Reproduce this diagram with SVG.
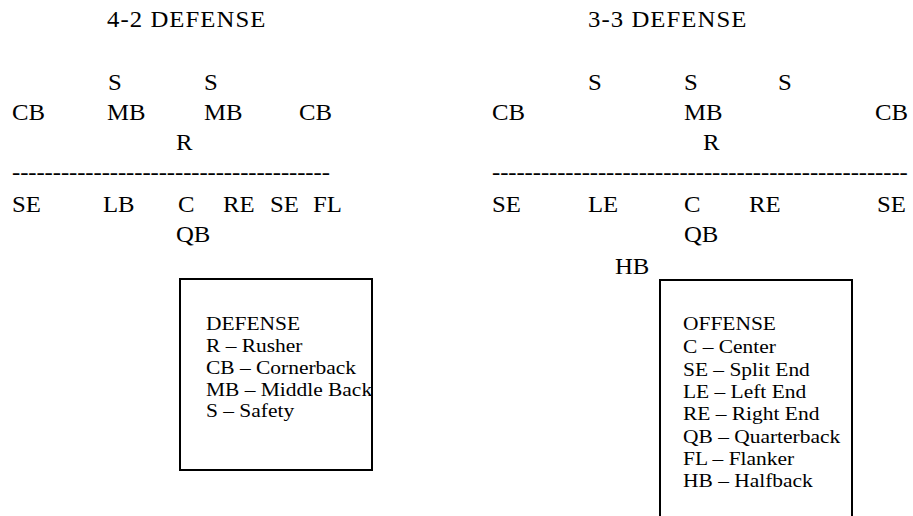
<svg xmlns="http://www.w3.org/2000/svg" width="913" height="516" viewBox="0 0 913 516">
<style>
.m{font-size:22.5px}
.l{font-size:19.5px}
.box{fill:none;stroke:#000;stroke-width:2}
</style>
<rect width="913" height="516" fill="#fff"/>
<g id="legend-boxes">
<rect id="defense-box" class="box" x="180" y="279" width="192" height="191"/>
<rect id="offense-box" class="box" x="660" y="280" width="192" height="250"/>
</g>
<g transform="scale(1.1 1)" font-family="Liberation Serif, Times New Roman, Times, DejaVu Serif, serif" fill="#000">
<g id="left-formation">
<text id="t42" class="m" x="97.27" y="27" textLength="144" lengthAdjust="spacing">4-2 DEFENSE</text>
<g id="l-s1"><text class="m" x="98.18" y="90">S</text></g>
<g id="l-s2"><text class="m" x="185.45" y="90">S</text></g>
<g id="l-cb1"><text class="m" x="10.91" y="120">CB</text></g>
<g id="l-mb1"><text class="m" x="97.27" y="120">MB</text></g>
<g id="l-mb2"><text class="m" x="185.45" y="120">MB</text></g>
<g id="l-cb2"><text class="m" x="271.82" y="120">CB</text></g>
<g id="l-r"><text class="m" x="160" y="150">R</text></g>
<g id="l-line"><text class="m" x="10.91" y="180" textLength="289" lengthAdjust="spacing">---------------------------------------</text></g>
<g id="l-se1"><text class="m" x="10.91" y="212">SE</text></g>
<g id="l-lb"><text class="m" x="93.64" y="212">LB</text></g>
<g id="l-c"><text class="m" x="161.82" y="212">C</text></g>
<g id="l-re"><text class="m" x="202.73" y="212">RE</text></g>
<g id="l-se2"><text class="m" x="245.45" y="212">SE</text></g>
<g id="l-fl"><text class="m" x="284.55" y="212">FL</text></g>
<g id="l-qb"><text class="m" x="160" y="242">QB</text></g>
</g>
<g id="right-formation">
<text id="t33" class="m" x="534.55" y="27" textLength="144" lengthAdjust="spacing">3-3 DEFENSE</text>
<g id="r-s1"><text class="m" x="534.55" y="90">S</text></g>
<g id="r-s2"><text class="m" x="621.82" y="90">S</text></g>
<g id="r-s3"><text class="m" x="707.27" y="90">S</text></g>
<g id="r-cb1"><text class="m" x="447.27" y="120">CB</text></g>
<g id="r-mb"><text class="m" x="621.82" y="120">MB</text></g>
<g id="r-cb2"><text class="m" x="795.45" y="120">CB</text></g>
<g id="r-r"><text class="m" x="639.09" y="150">R</text></g>
<g id="r-line"><text class="m" x="447.27" y="180" textLength="378" lengthAdjust="spacing">---------------------------------------------------</text></g>
<g id="r-se1"><text class="m" x="447.27" y="212">SE</text></g>
<g id="r-le"><text class="m" x="534.55" y="212">LE</text></g>
<g id="r-c"><text class="m" x="621.82" y="212">C</text></g>
<g id="r-re"><text class="m" x="680.91" y="212">RE</text></g>
<g id="r-se2"><text class="m" x="797.27" y="212">SE</text></g>
<g id="r-qb"><text class="m" x="621.82" y="242">QB</text></g>
<g id="r-hb"><text class="m" x="559.09" y="274">HB</text></g>
</g>
<g id="defense-legend">
<text class="l" x="187.27" y="330">DEFENSE</text>
<text class="l" x="187.27" y="352">R – Rusher</text>
<text class="l" x="187.27" y="374">CB – Cornerback</text>
<text class="l" x="187.27" y="396">MB – Middle Back</text>
<text class="l" x="187.27" y="417">S – Safety</text>
</g>
<g id="offense-legend">
<text class="l" x="620.91" y="330">OFFENSE</text>
<text class="l" x="620.91" y="353">C – Center</text>
<text class="l" x="620.91" y="376">SE – Split End</text>
<text class="l" x="620.91" y="398">LE – Left End</text>
<text class="l" x="620.91" y="420">RE – Right End</text>
<text class="l" x="620.91" y="443">QB – Quarterback</text>
<text class="l" x="620.91" y="465">FL – Flanker</text>
<text class="l" x="620.91" y="487">HB – Halfback</text>
</g>
</g>
</svg>
